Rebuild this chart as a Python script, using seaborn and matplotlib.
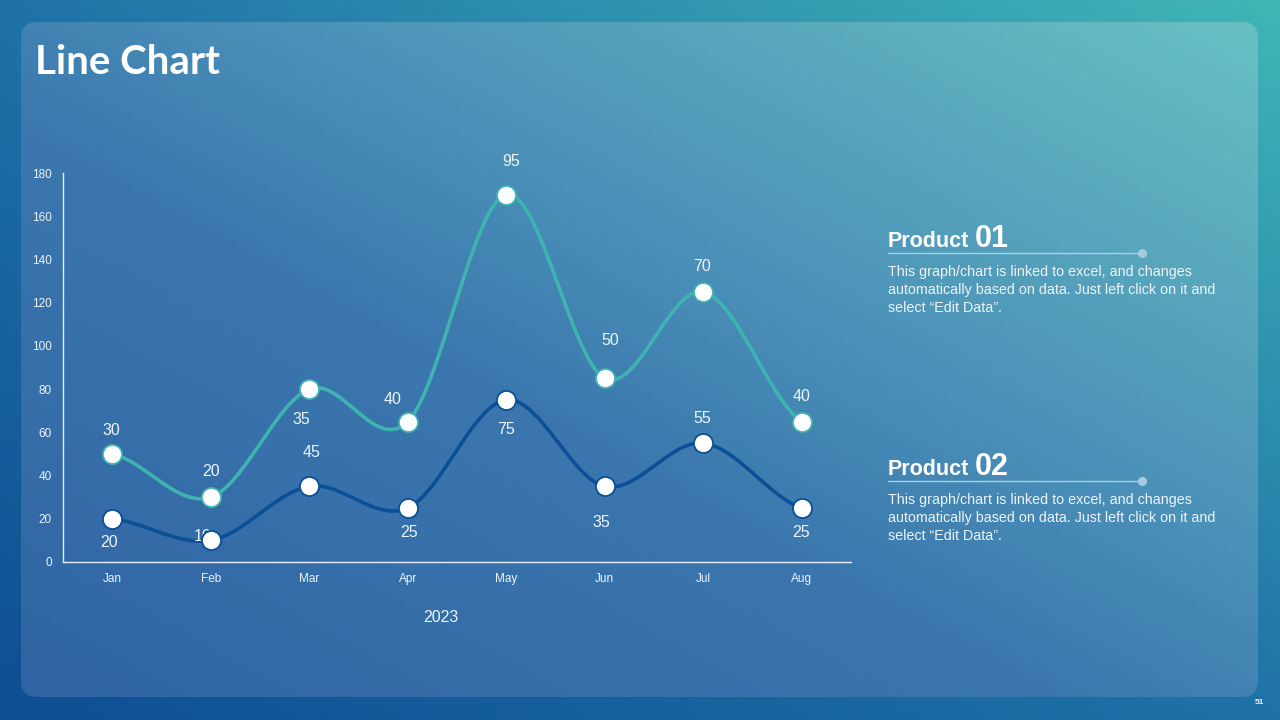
import matplotlib
matplotlib.use('Agg')
import matplotlib.pyplot as plt
import matplotlib.colors as mcolors
from matplotlib.patches import FancyBboxPatch
import seaborn as sns
import numpy as np
import pandas as pd

# data (stacked: product 01 sits on top of product 02)
months = ["Jan", "Feb", "Mar", "Apr", "May", "Jun", "Jul", "Aug"]
product_02 = [20, 10, 35, 25, 75, 35, 55, 25]
product_01 = [30, 20, 45, 40, 95, 50, 70, 40]
y_ticks = [0, 20, 40, 60, 80, 100, 120, 140, 160, 180]
x_title = "2023"

# label offsets in pixels (label - point), as placed in the original slide
# (the two Mar labels sit crossed over in the original)
off_01 = [(-1, 23), (0, 26), (2, -63), (-15, 22), (5, 33), (5, 38), (-1, 25), (0, 25)]
off_02 = [(-3, -24), (-8, 4), (-8, 67), (1, -25), (0, -30), (-3, -36), (-1, 25), (-1, -25)]

TEAL = "#3fb3b0"
DARK = "#0b4f97"
TXT = "#eef4f8"


def smooth(xs, ys, n=30):
    # catmull-rom path through the points, like office "smoothed line"
    xs = np.asarray(xs, float)
    ys = np.asarray(ys, float)
    px = np.concatenate([[2 * xs[0] - xs[1]], xs, [2 * xs[-1] - xs[-2]]])
    py = np.concatenate([[ys[0]], ys, [ys[-1]]])
    out_x, out_y = [], []
    for i in range(1, len(px) - 2):
        t = np.linspace(0, 1, n, endpoint=False)
        for p, out in ((px, out_x), (py, out_y)):
            p0, p1, p2, p3 = p[i - 1], p[i], p[i + 1], p[i + 2]
            out.extend(0.5 * (2 * p1 + (-p0 + p2) * t + (2 * p0 - 5 * p1 + 4 * p2 - p3) * t ** 2
                              + (-p0 + 3 * p1 - 3 * p2 + p3) * t ** 3))
    out_x.append(xs[-1])
    out_y.append(ys[-1])
    return np.array(out_x), np.array(out_y)


def gradient(w, h, stops):
    xx, yy = np.meshgrid(np.linspace(0, 1, w), np.linspace(0, 1, h))
    t = (xx + yy) / 2  # bottom-left -> top-right (origin lower)
    cmap = mcolors.LinearSegmentedColormap.from_list("g", stops)
    return cmap(t)


sns.set_theme(style="white")
plt.rcParams['font.family'] = ['Liberation Sans', 'DejaVu Sans']

fig = plt.figure(figsize=(12.8, 7.2), dpi=100)

# background + rounded panel
bg = fig.add_axes([0, 0, 1, 1])
bg.set_xlim(0, 1280)
bg.set_ylim(0, 720)
bg.axis("off")
bg.imshow(gradient(200, 120, [(0, "#0d4f92"), (0.5, "#1f72a8"), (1, "#40b6b6")]),
          extent=[0, 1280, 0, 720], origin="lower", aspect="auto", zorder=0)
panel = FancyBboxPatch((21, 23), 1237, 675, boxstyle="round,pad=0,rounding_size=16",
                       facecolor="none", edgecolor="none", zorder=1)
bg.add_patch(panel)
im = bg.imshow(gradient(200, 120, [(0, "#3064a4"), (0.42, "#3b77ae"), (0.6, "#4a90b8"), (1, "#68c0c2")]),
               extent=[21, 1258, 23, 698], origin="lower", aspect="auto", zorder=1)
im.set_clip_path(panel)

# main chart
ax = fig.add_axes([63 / 1280, 158 / 720, 788 / 1280, 389 / 720])
ax.patch.set_alpha(0)
x = np.arange(len(months))
stacked = np.array(product_02) + np.array(product_01)

df = pd.DataFrame({"month": x, "p02": product_02, "top": stacked})
for col, color in (("p02", DARK), ("top", TEAL)):
    sx, sy = smooth(df["month"], df[col])
    sns.lineplot(x=sx, y=sy, sort=False, color=color, linewidth=2.6, ax=ax, zorder=3)
    sns.scatterplot(data=df, x="month", y=col, s=190, color="white", edgecolor=color,
                    linewidth=1.3, ax=ax, zorder=5)

for i in range(len(months)):
    ax.annotate(str(product_01[i]), (x[i], stacked[i]), xytext=off_01[i], textcoords="offset pixels",
                ha="center", va="center", fontsize=11.5, color=TXT, zorder=4)
    ax.annotate(str(product_02[i]), (x[i], product_02[i]), xytext=off_02[i], textcoords="offset pixels",
                ha="center", va="center", fontsize=11.5, color=TXT, zorder=4)

ax.set_xlim(-0.5, 7.5)
ax.set_ylim(0, 180)
ax.set_xticks(x)
ax.set_xticklabels(months)
ax.set_yticks(y_ticks)
ax.set_xlabel("")
ax.set_ylabel("")
ax.tick_params(axis="both", length=0, labelsize=8.5, colors=TXT)
ax.tick_params(axis="y", pad=8)
ax.tick_params(axis="x", pad=8)
for side in ("top", "right"):
    ax.spines[side].set_visible(False)
for side in ("left", "bottom"):
    ax.spines[side].set_color("#e6eff6")
    ax.spines[side].set_linewidth(1)
ax.grid(False)

fig.text(441 / 1280, 1 - 618 / 720, x_title, ha="center", va="center", fontsize=11.5, color=TXT)

# title
fig.text(35 / 1280, 1 - 74 / 720, "Line Chart", family=["Lato", "DejaVu Sans"], fontweight="bold",
         fontsize=29, color="white", ha="left", va="baseline")

# side notes
desc = ("This graph/chart is linked to excel, and changes\n"
        "automatically based on data. Just left click on it and\n"
        "select \u201cEdit Data\u201d.")
for num, base in (("01", 247), ("02", 475)):
    fig.text(888 / 1280, 1 - base / 720, "Product", fontsize=15.5, fontweight="bold", color="white",
             ha="left", va="baseline")
    fig.text(975 / 1280, 1 - base / 720, num, fontsize=22, fontweight="bold", color="white",
             ha="left", va="baseline")
    ly = 720 - base - 6
    bg.plot([888, 1142], [ly, ly], color="#a9cfe2", linewidth=1, zorder=2)
    bg.scatter([1142], [ly], s=30, color="#a9c9de", zorder=2)
    fig.text(888 / 1280, 1 - (base + 18) / 720, desc, fontsize=10.3, color=TXT, ha="left", va="top",
             linespacing=1.36)

fig.text(1259 / 1280, 1 - 703 / 720, "51", fontsize=6, fontweight="bold", color=TXT, ha="center", va="center")

plt.savefig("out.png", dpi=100)
